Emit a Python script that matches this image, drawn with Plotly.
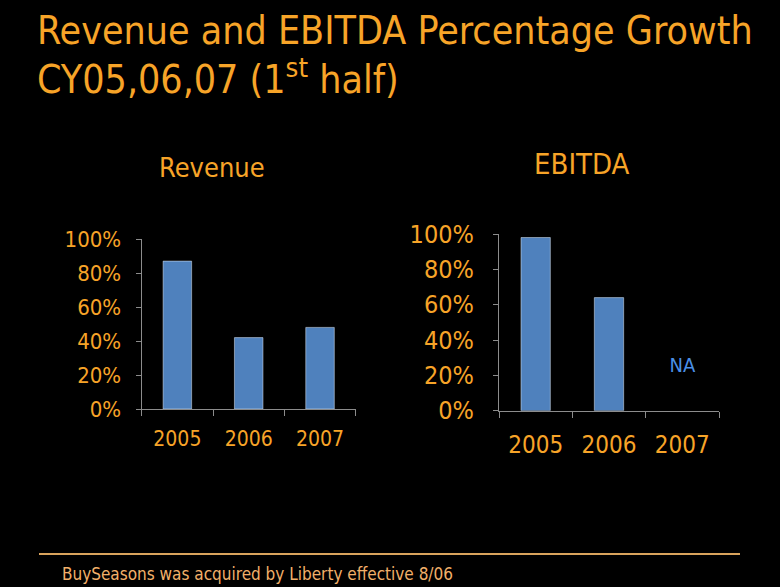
import plotly.graph_objects as go

W, H = 780, 587
years = ["2005", "2006", "2007"]
revenue_growth = [0.87, 0.42, 0.48]
ebitda_growth = [0.98, 0.64, None]
ebitda_na_label = "NA"
y_ticks = [0, 0.2, 0.4, 0.6, 0.8, 1.0]

ORANGE = "#f7a428"
BAR = "#4f81bd"
AXIS = "#8c8c8c"
FONT = "DejaVu Sans Condensed, DejaVu Sans, sans-serif"

def px(xp):
    return xp / W

def py(yp):
    return 1 - yp / H

fig = go.Figure()
fig.add_trace(go.Bar(x=years, y=revenue_growth, marker_color=BAR, width=0.4,
                     xaxis="x", yaxis="y", hoverinfo="skip"))
fig.add_trace(go.Bar(x=years, y=ebitda_growth, marker_color=BAR, width=0.4,
                     xaxis="x2", yaxis="y2", hoverinfo="skip"))
# NA label for the missing EBITDA value
na_x = [y for y, v in zip(years, ebitda_growth) if v is None]
fig.add_trace(go.Scatter(x=na_x, y=[0.25] * len(na_x), mode="text", text=[ebitda_na_label] * len(na_x),
                         textposition="middle center",
                         textfont=dict(family=FONT, size=20, color="#4a8fe6"),
                         xaxis="x2", yaxis="y2", hoverinfo="skip", cliponaxis=False))

def xaxis(domain, anchor, size, standoff):
    return dict(domain=domain, anchor=anchor, type="category", categoryorder="array",
                categoryarray=years, range=[-0.5, 2.5], automargin=False,
                showline=True, linecolor=AXIS, linewidth=1.2, showgrid=False, zeroline=False,
                ticks="outside", tickson="boundaries", ticklen=6, tickcolor=AXIS, tickangle=0,
                tickfont=dict(family=FONT, size=size, color=ORANGE),
                ticklabelstandoff=standoff, fixedrange=True)

def yaxis(domain, anchor, size, standoff):
    return dict(domain=domain, anchor=anchor, range=[0, 1], tickvals=y_ticks, tickformat=".0%",
                automargin=False,
                showline=True, linecolor=AXIS, linewidth=1.2, showgrid=False, zeroline=False,
                ticks="outside", ticklen=5, tickcolor=AXIS,
                tickfont=dict(family=FONT, size=size, color=ORANGE),
                ticklabelstandoff=standoff, fixedrange=True)

fig.update_layout(
    width=W, height=H, margin=dict(l=0, r=0, t=0, b=0, pad=0, autoexpand=False),
    paper_bgcolor="black", plot_bgcolor="black", showlegend=False,
    xaxis=xaxis([px(141.7), px(355.7)], "y", 21, 11),
    yaxis=yaxis([py(409), py(239)], "x", 22, 10),
    xaxis2=xaxis([px(499), px(719)], "y2", 24, 12),
    yaxis2=yaxis([py(410.7), py(234)], "x2", 25, 14),
)

annotations = [
    dict(text="Revenue and EBITDA Percentage Growth", x=px(35), y=py(30), xanchor="left", yanchor="middle",
         font=dict(family=FONT, size=39, color=ORANGE)),
    dict(text="CY05,06,07 (1<sup>st</sup> half)", x=px(35), y=py(77), xanchor="left", yanchor="middle",
         font=dict(family=FONT, size=39, color=ORANGE)),
    dict(text="Revenue", x=px(212), y=py(167), xanchor="center", yanchor="middle",
         font=dict(family=FONT, size=27, color=ORANGE)),
    dict(text="EBITDA", x=px(582), y=py(164), xanchor="center", yanchor="middle",
         font=dict(family=FONT, size=29, color=ORANGE)),
    dict(text="BuySeasons was acquired by Liberty effective 8/06", x=px(60), y=py(574),
         xanchor="left", yanchor="middle", font=dict(family=FONT, size=17, color="#f2b06a")),
]
for a in annotations:
    a["xref"] = "paper"
    a["yref"] = "paper"
    a["showarrow"] = False
fig.update_layout(annotations=annotations)

fig.add_shape(type="line", xref="paper", yref="paper", x0=px(39), x1=px(740), y0=py(554), y1=py(554),
              line=dict(color="#d9a35c", width=2))

fig.write_html("out.html", config={"displayModeBar": False},
               post_script="document.body.style.margin='0';document.body.style.overflow='hidden';")
